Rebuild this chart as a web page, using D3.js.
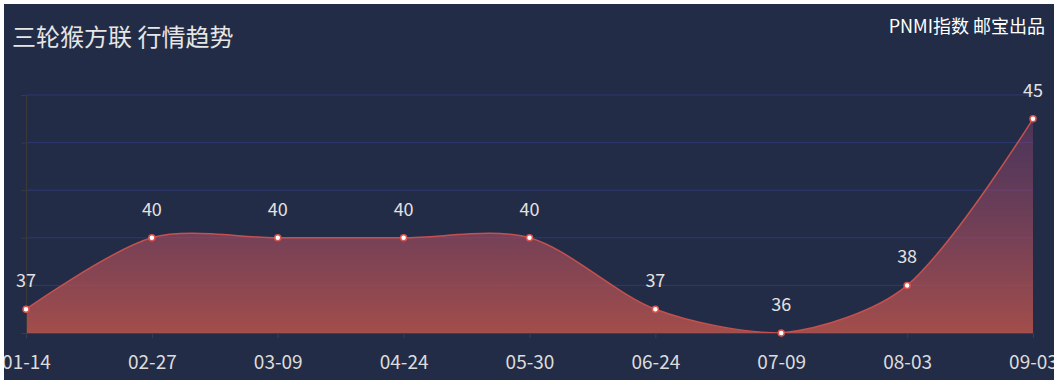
<!DOCTYPE html>
<html><head><meta charset="utf-8">
<script src="https://cdn.jsdelivr.net/npm/d3@7"></script>
<style>
html,body{margin:0;padding:0;background:#fff;}
#chart{position:absolute;left:4px;top:4px;width:1050px;height:376px;background:#232c46;overflow:hidden;}
svg{display:block;}
</style></head><body>
<div id="chart"></div>
<script>
const categories = ["01-14","02-27","03-09","04-24","05-30","06-24","07-09","08-03","09-03"];
const values = [37,40,40,40,40,37,36,38,45];
const yTicks = [36,38,40,42,44,46];
const title = "三轮猴方联 行情趋势";
const subtitle = "PNMI指数 邮宝出品";

const W = 1050, H = 376;
const svg = d3.select("#chart").append("svg").attr("width", W).attr("height", H);
const font = "'Microsoft YaHei','Noto Sans CJK SC',sans-serif";

const x = d3.scalePoint().domain(categories).range([22, 1029]);
const y = d3.scaleLinear().domain([36, 46]).range([329, 91]);

// gradient
const defs = svg.append("defs");
const grad = defs.append("linearGradient").attr("id","ag")
  .attr("gradientUnits","userSpaceOnUse").attr("x1",0).attr("x2",0)
  .attr("y1", y(45)).attr("y2", y(36));
grad.append("stop").attr("offset","0").attr("stop-color","rgb(149,70,124)").attr("stop-opacity",0.35);
grad.append("stop").attr("offset","1").attr("stop-color","rgb(199,87,75)").attr("stop-opacity",0.78);

// grid lines
svg.append("g").selectAll("line").data(yTicks).join("line")
  .attr("x1", x(categories[0])).attr("x2", x(categories[categories.length-1]))
  .attr("y1", d => y(d)).attr("y2", d => y(d))
  .attr("stroke", "#2f3776").attr("stroke-width", 1);

// smooth path (echarts-like bezier smoothing with bounding constraint)
const pts = values.map((v,i) => [x(categories[i]), y(v)]);
function smoothPath(points, smooth) {
  const minX = d3.min(points, p=>p[0]), maxX = d3.max(points, p=>p[0]);
  const minY = d3.min(points, p=>p[1]), maxY = d3.max(points, p=>p[1]);
  const cps = [];
  const n = points.length;
  for (let i = 0; i < n; i++) {
    const p = points[i];
    if (i === 0 || i === n-1) { cps.push([p[0], p[1]]); continue; }
    const pr = points[i-1], nx = points[i+1];
    const vx = (nx[0]-pr[0])*smooth, vy = (nx[1]-pr[1])*smooth;
    let d0 = Math.hypot(p[0]-pr[0], p[1]-pr[1]);
    let d1 = Math.hypot(p[0]-nx[0], p[1]-nx[1]);
    const s = d0 + d1;
    if (s) { d0 /= s; d1 /= s; }
    const c0 = [p[0]-vx*d0, p[1]-vy*d0];
    const c1 = [p[0]+vx*d1, p[1]+vy*d1];
    [c0,c1].forEach(c => {
      c[0] = Math.max(minX, Math.min(maxX, c[0]));
      c[1] = Math.max(minY, Math.min(maxY, c[1]));
    });
    cps.push(c0, c1);
  }
  const path = d3.path();
  path.moveTo(points[0][0], points[0][1]);
  for (let i = 0; i < n-1; i++) {
    const a = cps[2*i], b = cps[2*i+1], q = points[i+1];
    path.bezierCurveTo(a[0], a[1], b[0], b[1], q[0], q[1]);
  }
  return path.toString();
}
const linePath = smoothPath(pts, 0.3);
const areaPath = linePath + `L${pts[pts.length-1][0]},${y(36)}L${pts[0][0]},${y(36)}Z`;

svg.append("path").attr("d", areaPath).attr("fill", "url(#ag)");
svg.append("path").attr("d", linePath).attr("fill","none").attr("stroke","#c4514e").attr("stroke-width",1.5);

// axes
const xAxis = svg.append("g").attr("transform", `translate(0,${y(36)})`)
  .call(d3.axisBottom(x).tickSize(5).tickPadding(18));
xAxis.select(".domain").attr("stroke","#3a3f4f");
xAxis.selectAll(".tick line").attr("stroke","#3a3f4f");
xAxis.selectAll("text").attr("fill","#dcdcdc").style("font-size","19px").style("font-family",font);

const yAxis = svg.append("g").attr("transform", `translate(${x(categories[0])},0)`)
  .call(d3.axisLeft(y).tickValues(yTicks).tickSize(5).tickFormat(""));
yAxis.select(".domain").attr("stroke","#3a3a3a");
yAxis.selectAll(".tick line").attr("stroke","#3a3a3a");

// points
svg.append("g").selectAll("circle").data(values).join("circle")
  .attr("cx", (d,i) => x(categories[i])).attr("cy", d => y(d)).attr("r", 3)
  .attr("fill","#fff").attr("stroke","#d9534f").attr("stroke-width",1.5);

// value labels
svg.append("g").selectAll("text").data(values).join("text")
  .attr("x", (d,i) => x(categories[i])).attr("y", d => y(d) - 30)
  .attr("text-anchor","middle").attr("dominant-baseline","central")
  .attr("fill","#e2e2e2").style("font-size","18px").style("font-family",font)
  .text(d => d);

// titles
svg.append("text").attr("x", 8).attr("y", 31).attr("dominant-baseline","central")
  .attr("fill","#e6e6e6").style("font-size","24px").style("font-family",font).text(title);
svg.append("text").attr("x", 1041).attr("y", 21).attr("dominant-baseline","central")
  .attr("text-anchor","end")
  .attr("fill","#ffffff").style("font-size","18px").style("font-family",font).text(subtitle);
</script>
</body></html>
